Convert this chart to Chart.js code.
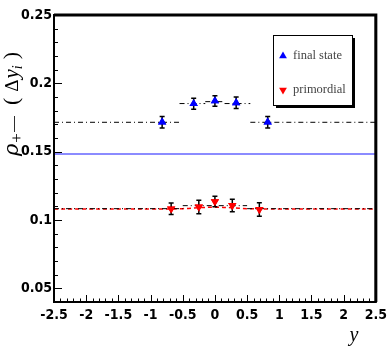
<!DOCTYPE html>
<html>
<head>
<meta charset="utf-8">
<script src="https://cdn.jsdelivr.net/npm/chart.js@4.4.1/dist/chart.umd.min.js"></script>
<style>
  body { margin: 0; background: #fff; }
  #wrap { width: 392px; height: 354px; }
</style>
</head>
<body>
<div id="wrap"><canvas id="rhoChart"></canvas></div>
<script>
// data
const seriesNames = ['final state', 'primordial'];

const finalX = [-0.82, -0.33, 0, 0.33, 0.82];
const finalY = [0.1716, 0.1851, 0.1871, 0.1858, 0.1716];
const finalErr = [0.0042, 0.0040, 0.0038, 0.0042, 0.0042];

const primX = [-0.68, -0.25, 0, 0.27, 0.69];
const primY = [0.1082, 0.1095, 0.1135, 0.1106, 0.1077];
const primErr = [0.0042, 0.0050, 0.0038, 0.0045, 0.0050];

// dash-dot step lines (bin edges and levels)
const finalFitEdges = [-2.5, -0.55, -0.15, 0.15, 0.55, 2.5];
const finalFitLevels = [0.1715, 0.1852, 0.1866, 0.1852, 0.1715];
const primFitEdges = [-2.5, -0.5, 0.5, 2.5];
const primFitLevels = [0.1083, 0.1105, 0.1083];

// red dashed curve
const primCurveX = [-2.5, -1, -0.5, -0.25, 0, 0.25, 0.5, 1, 2.5];
const primCurveY = [0.108, 0.108, 0.1083, 0.109, 0.1093, 0.109, 0.1083, 0.108, 0.108];

// blue reference level
const refLevel = 0.1483;

const xTicks = [-2.5, -2, -1.5, -1, -0.5, 0, 0.5, 1, 1.5, 2, 2.5];
const yTicks = [0.05, 0.1, 0.15, 0.2, 0.25];

const tickFont = { family: "'Liberation Sans Narrow', 'DejaVu Sans Condensed', sans-serif", size: 14, weight: 'bold' };

function steps(edges, levels) {// horizontal pieces, broken at each edge
  const pts = [];
  levels.forEach((lv, i) => {
    pts.push({ x: edges[i], y: lv }, { x: edges[i + 1], y: lv }, { x: edges[i + 1], y: null });
  });
  return pts;
}

const pointsOf = (xs, ys) => xs.map((x, i) => ({ x: x, y: ys[i] }));

const errorBars = {
  id: 'errorBars',
  afterDatasetsDraw(chart) {
    const ctx = chart.ctx, xs = chart.scales.x, ys = chart.scales.y;
    const sets = [[finalX, finalY, finalErr], [primX, primY, primErr]];
    ctx.save();
    ctx.strokeStyle = '#000';
    ctx.lineWidth = 1.5;
    sets.forEach(([X, Y, E]) => {
      X.forEach((x, i) => {
        const px = xs.getPixelForValue(x);
        const top = ys.getPixelForValue(Y[i] + E[i]);
        const bot = ys.getPixelForValue(Y[i] - E[i]);
        ctx.beginPath();
        ctx.moveTo(px, top); ctx.lineTo(px, bot);
        ctx.moveTo(px - 2.5, top); ctx.lineTo(px + 2.5, top);
        ctx.moveTo(px - 2.5, bot); ctx.lineTo(px + 2.5, bot);
        ctx.stroke();
      });
    });
    ctx.restore();
    // markers back on top of the bars
    [3, 4].forEach(i => chart.getDatasetMeta(i).controller.draw());
  }
};

const frame = {
  id: 'frame',
  afterDraw(chart) {
    const ctx = chart.ctx, a = chart.chartArea, xs = chart.scales.x, ys = chart.scales.y;
    ctx.save();
    ctx.strokeStyle = '#000';
    // inward ticks
    ctx.lineWidth = 1;
    ctx.beginPath();
    for (let k = 4; k <= 25; k++) {
      const py = Math.round(ys.getPixelForValue(k / 100)) + 0.5;
      const len = k % 5 === 0 ? 8 : 4;
      ctx.moveTo(a.left, py); ctx.lineTo(a.left + len, py);
    }
    for (let k = -25; k <= 25; k++) {
      const px = Math.round(xs.getPixelForValue(k / 10)) + 0.5;
      const len = k % 5 === 0 ? 7 : 3.5;
      ctx.moveTo(px, a.bottom); ctx.lineTo(px, a.bottom - len);
    }
    ctx.stroke();
    // frame
    ctx.lineWidth = 2;
    ctx.strokeRect(a.left, a.top, a.right - a.left, a.bottom - a.top);
    ctx.lineWidth = 3;
    ctx.beginPath();
    ctx.moveTo(a.left, a.top); ctx.lineTo(a.right, a.top); ctx.lineTo(a.right, a.bottom);
    ctx.stroke();

    // legend box
    const bx = 273, by = 35, bw = 79, bh = 70;
    ctx.fillStyle = '#000';
    ctx.fillRect(bx + 3, by + 3, bw, bh);
    ctx.fillStyle = '#fff';
    ctx.fillRect(bx, by, bw, bh);
    ctx.lineWidth = 1;
    ctx.strokeRect(bx + 0.5, by + 0.5, bw, bh);
    const entries = [3, 4];
    entries.forEach((di, i) => {
      const ds = chart.data.datasets[di];
      const ey = by + 21 + i * 34;
      ctx.fillStyle = ds.backgroundColor;
      ctx.strokeStyle = ds.borderColor;
      Chart.helpers.drawPoint(ctx, { pointStyle: 'triangle', radius: 4.5, rotation: ds.rotation || 0, borderWidth: 0 }, bx + 10, ey);
      ctx.fillStyle = '#444';
      ctx.font = "12.5px 'Liberation Serif', serif";
      ctx.textBaseline = 'middle';
      ctx.textAlign = 'left';
      ctx.fillText(ds.label, bx + 20, ey);
    });

    // axis titles
    ctx.fillStyle = '#000';
    ctx.save();
    ctx.translate(18, 156);
    ctx.rotate(-Math.PI / 2);
    ctx.textBaseline = 'alphabetic';
    ctx.textAlign = 'left';
    const parts = [// text, font, baseline shift, gap after
      ['\u03c1', "italic 21px 'DejaVu Serif', serif", 0, 1],
      ['+', "17px 'Liberation Serif', serif", 4, 1],
      ['\u2014', "16px 'Liberation Serif', serif", 0, 11],
      ['(', "22px 'Liberation Serif', serif", 0, 6],
      ['\u0394', "19px 'Liberation Serif', serif", 0, 1],
      ['y', "italic 21px 'Liberation Serif', serif", 0, 0],
      ['i', "italic 14px 'Liberation Serif', serif", 4, 6],
      [')', "22px 'Liberation Serif', serif", 0, 0]
    ];
    let w = 0;
    parts.forEach(([t, f, dy, gap]) => {
      ctx.font = f;
      ctx.fillText(t, w, dy);
      w += ctx.measureText(t).width + gap;
    });
    ctx.restore();

    ctx.font = "italic 20px 'Liberation Serif', serif";
    ctx.textAlign = 'center';
    ctx.textBaseline = 'alphabetic';
    ctx.fillText('y', 354, 341);
    ctx.restore();
  }
};

new Chart(document.getElementById('rhoChart'), {
  type: 'scatter',
  data: {
    datasets: [
      {// blue reference line
        type: 'line', label: 'ref', data: [{ x: -2.5, y: refLevel }, { x: 2.5, y: refLevel }],
        borderColor: '#6464ff', borderWidth: 1.5, pointRadius: 0, fill: false
      },
      {
        type: 'line', label: 'fit final', data: steps(finalFitEdges, finalFitLevels),
        borderColor: '#000', borderWidth: 1, borderDash: [5, 3, 1, 3], pointRadius: 0, spanGaps: false
      },
      {
        type: 'line', label: 'fit prim', data: steps(primFitEdges, primFitLevels),
        borderColor: '#000', borderWidth: 1, borderDash: [5, 3, 1, 3], pointRadius: 0, spanGaps: false
      },
      {
        label: seriesNames[0], data: pointsOf(finalX, finalY),
        pointStyle: 'triangle', pointRadius: 4.8, backgroundColor: '#0000ff', borderColor: '#0000ff', borderWidth: 0
      },
      {
        label: seriesNames[1], data: pointsOf(primX, primY),
        pointStyle: 'triangle', rotation: 180, pointRadius: 4.8, backgroundColor: '#ff0000', borderColor: '#ff0000', borderWidth: 0
      },
      {// red dashed curve
        type: 'line', label: 'curve prim', data: pointsOf(primCurveX, primCurveY),
        borderColor: '#ff0000', borderWidth: 1.5, borderDash: [4, 3], pointRadius: 0, tension: 0.4
      }
    ]
  },
  options: {
    responsive: true,
    maintainAspectRatio: false,
    animation: false,
    events: [],
    layout: { padding: { top: 15, right: 16, left: 0, bottom: 0 } },
    plugins: { legend: { display: false }, tooltip: { enabled: false } },
    scales: {
      x: {
        type: 'linear', min: -2.5, max: 2.5,
        afterBuildTicks: s => { s.ticks = xTicks.map(v => ({ value: v })); },
        afterFit: s => { s.height = 52; },
        grid: { display: false, drawTicks: false },
        border: { display: false },
        ticks: { padding: 5, color: '#000', font: tickFont, maxRotation: 0, autoSkip: false, callback: v => String(v) }
      },
      y: {
        type: 'linear', min: 0.04, max: 0.25,
        afterBuildTicks: s => { s.ticks = yTicks.map(v => ({ value: v })); },
        afterFit: s => { s.width = 54; },
        grid: { display: false, drawTicks: false },
        border: { display: false },
        ticks: { padding: 2, color: '#000', font: tickFont, autoSkip: false, callback: v => String(+v.toFixed(2)) }
      }
    }
  },
  plugins: [errorBars, frame]
});
</script>
</body>
</html>
